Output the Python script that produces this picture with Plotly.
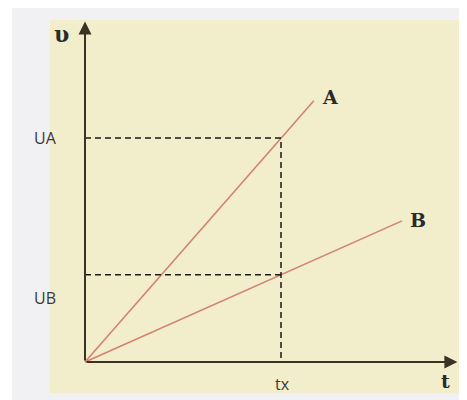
import plotly.graph_objects as go

# --- data (schematic v-t graph) ---
t_x = 4.0                 # time tx
v_A = 4.57                # velocity of A at tx
v_B = 1.78                # velocity of B at tx
line_A_t = [0.0, 4.67]
line_A_v = [0.0, 5.33]
line_B_t = [0.0, 6.47]
line_B_v = [0.0, 2.88]
axis_t_max = 7.6
axis_v_max = 6.95
tick_labels = {"tA": "UA", "tB": "UB", "tx": "tx"}
series_names = ["A", "B"]

PAGE_OFF = 8               # default body margin of the html page
W, H = 467 - PAGE_OFF, 400 - PAGE_OFF
ox, oy, s = 85 - PAGE_OFF, 362 - PAGE_OFF, 49.0  # origin pixel (in figure) and px per unit

fig = go.Figure()

line_col = "#d4826f"
fig.add_trace(go.Scatter(x=line_A_t, y=line_A_v, mode="lines",
                         line=dict(color=line_col, width=1.6), hoverinfo="skip"))
fig.add_trace(go.Scatter(x=line_B_t, y=line_B_v, mode="lines",
                         line=dict(color=line_col, width=1.6), hoverinfo="skip"))
# dashed guides
fig.add_trace(go.Scatter(x=[0, t_x, t_x], y=[v_A, v_A, 0], mode="lines",
                         line=dict(color="#1a1a1a", width=1.5, dash="6px,4px"), hoverinfo="skip"))
fig.add_trace(go.Scatter(x=[0, t_x], y=[v_B, v_B], mode="lines",
                         line=dict(color="#1a1a1a", width=1.5, dash="6px,4px"), hoverinfo="skip"))

axis_col = "#3a3222"
ann = []
# axes with arrows
ann.append(dict(x=axis_t_max, y=0, ax=0, ay=0, axref="x", ayref="y",
                text="", showarrow=True, arrowhead=2, arrowsize=1.3, arrowwidth=2, arrowcolor=axis_col))
ann.append(dict(x=0, y=axis_v_max, ax=0, ay=0, axref="x", ayref="y",
                text="", showarrow=True, arrowhead=2, arrowsize=1.3, arrowwidth=2, arrowcolor=axis_col))

serif_bold = dict(family="DejaVu Serif", size=19, color="#2a2a2a")
sans = dict(family="Open Sans", size=16, color="#3a3a3a")

ann.append(dict(x=-0.47, y=axis_v_max - 0.26, text="<b>υ</b>", showarrow=False,
                font=dict(family="DejaVu Serif", size=22, color="#2a2a2a")))
ann.append(dict(x=axis_t_max - 0.25, y=-0.39, text="<b>t</b>", showarrow=False, font=serif_bold))
ann.append(dict(x=line_A_t[1] + 0.33, y=line_A_v[1] + 0.08, text="<b>" + series_names[0] + "</b>",
                showarrow=False, font=serif_bold))
ann.append(dict(x=line_B_t[1] + 0.33, y=line_B_v[1] + 0.02, text="<b>" + series_names[1] + "</b>",
                showarrow=False, font=serif_bold))
ann.append(dict(x=t_x + 0.04, y=-0.45, text=tick_labels["tx"], showarrow=False, font=sans))
ann.append(dict(x=-0.8, y=v_A, text=tick_labels["tA"], showarrow=False, font=sans))
ann.append(dict(x=-0.82, y=v_B - 0.47, text=tick_labels["tB"], showarrow=False, font=sans))
for a in ann:
    a.setdefault("xref", "x")
    a.setdefault("yref", "y")

shapes = [
    dict(type="rect", xref="paper", yref="paper", x0=(12 - PAGE_OFF) / W, x1=1, y0=0, y1=1,
         fillcolor="#f1f0f2", line=dict(width=0), layer="below"),
    dict(type="rect", xref="paper", yref="paper",
         x0=(50 - PAGE_OFF) / W, x1=(462 - PAGE_OFF) / W,
         y0=1 - (393 - PAGE_OFF) / H, y1=1 - (20 - PAGE_OFF) / H,
         fillcolor="#f2eecc", line=dict(width=0), layer="below"),
]

fig.update_layout(
    width=W, height=H,
    margin=dict(l=0, r=0, t=0, b=0),
    paper_bgcolor="white", plot_bgcolor="rgba(0,0,0,0)",
    showlegend=False,
    xaxis=dict(range=[-ox / s, (W - ox) / s], visible=False, fixedrange=True),
    yaxis=dict(range=[-(H - oy) / s, oy / s], visible=False, fixedrange=True),
    annotations=ann, shapes=shapes,
)

fig.write_html("out.html", config={"displayModeBar": False})
